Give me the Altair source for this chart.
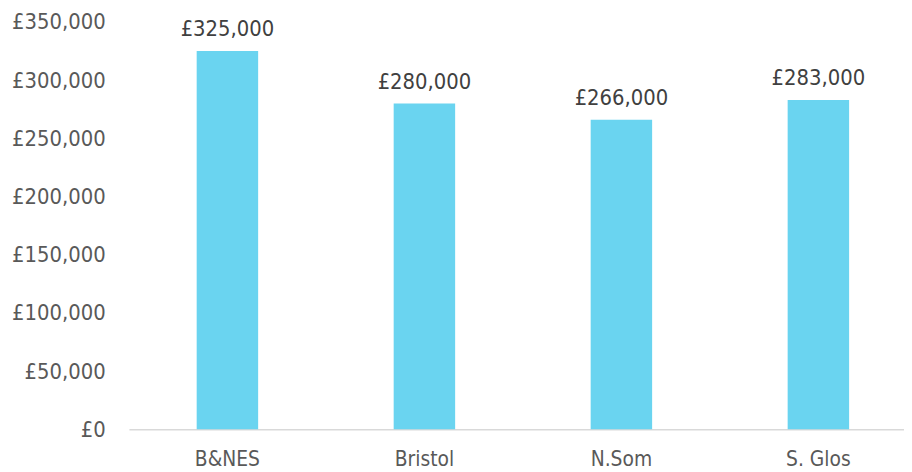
import altair as alt
import pandas as pd

areas = ["B&NES", "Bristol", "N.Som", "S. Glos"]
prices = [325000, 280000, 266000, 283000]
labels = ["£325,000", "£280,000", "£266,000", "£283,000"]

df = pd.DataFrame({"area": areas, "price": prices, "label": labels})

FONT = "DejaVu Sans Condensed"
FS = 22
x = alt.X("area:N", sort=areas, title=None,
          scale=alt.Scale(range=[0, 795], paddingInner=0.688, paddingOuter=0.344),
          axis=alt.Axis(labelAngle=0, labelFontSize=21, labelColor="#595959", labelFont=FONT,
                        ticks=False, domainColor="#d9d9d9", domainWidth=1.5, labelPadding=20))
y = alt.Y("price:Q", title=None,
          scale=alt.Scale(domain=[0, 350000], nice=False),
          axis=alt.Axis(values=[0, 50000, 100000, 150000, 200000, 250000, 300000, 350000],
                        labelExpr="'£' + format(datum.value, ',')",
                        labelFontSize=FS, labelColor="#595959", labelFont=FONT,
                        ticks=False, domain=False, grid=False, labelPadding=24))

bars = alt.Chart(df).mark_bar(color="#6AD4F0").encode(x=x, y=y)
text = alt.Chart(df).mark_text(dy=-10, baseline="bottom", fontSize=FS, font=FONT,
                               color="#404040").encode(x=x, y=y, text="label:N")

chart = (bars + text).properties(
    width=782, height=411,
    autosize=alt.AutoSizeParams(type="none"),
    padding={"left": 122, "top": 12, "right": 0, "bottom": 40},
).configure_view(stroke=None)

chart.save("out.html", embed_options={"renderer": "svg", "actions": False})
